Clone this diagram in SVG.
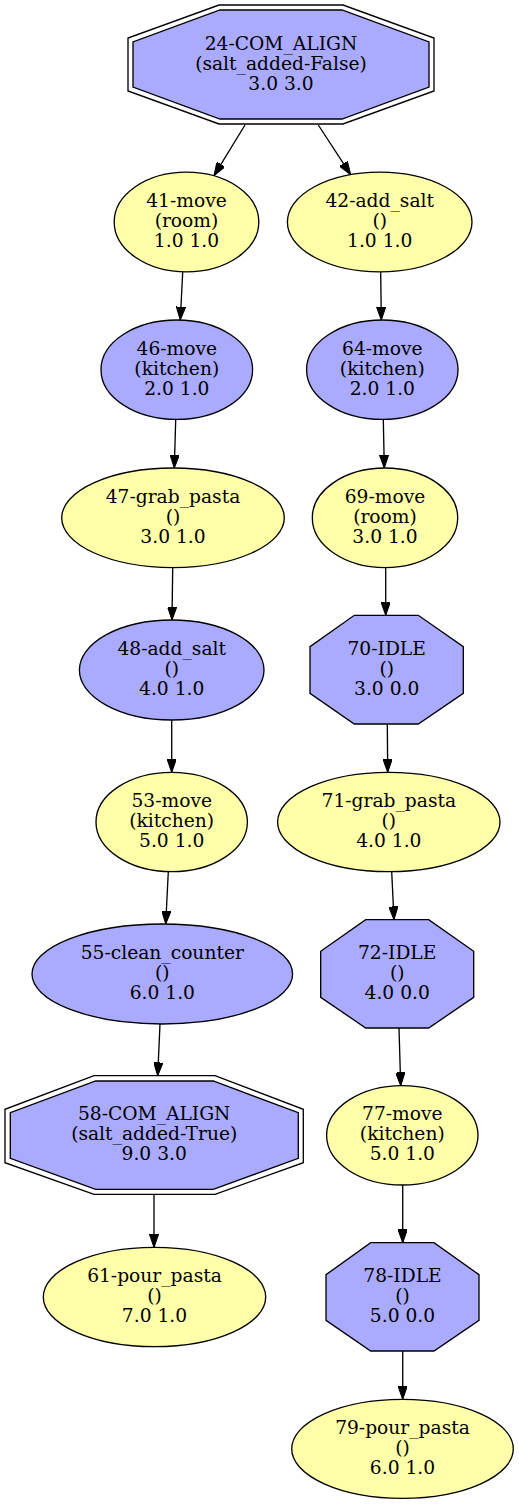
<svg xmlns="http://www.w3.org/2000/svg" width="519" height="1505" viewBox="0 0 519 1505">
<style>
.b{fill:#aaaaff;stroke:#000;stroke-width:1.33}
.y{fill:#ffffaa;stroke:#000;stroke-width:1.33}
.o{fill:none;stroke:#000;stroke-width:1.33}
text{font-family:"DejaVu Serif","Liberation Serif",serif;font-size:18.67px;text-anchor:middle;fill:#000}
.e line{stroke:#000;stroke-width:1.33;marker-end:url(#ah)}
</style>
<defs>
<marker id="ah" viewBox="0 0 10 7" refX="10" refY="3.5" markerWidth="13.3" markerHeight="9.3" markerUnits="userSpaceOnUse" orient="auto">
<path d="M0,0 L10,3.5 L0,7 z" fill="#000" stroke="#000" stroke-width="0.8"/>
</marker>
</defs>
<rect width="519" height="1505" fill="#fff"/>
<g class="e" id="edges">
<line x1="245" y1="125" x2="214" y2="175.7"/>
<line x1="318.3" y1="125" x2="350.7" y2="174.7"/>
<line x1="182.7" y1="272" x2="180.3" y2="320"/>
<line x1="380.7" y1="272" x2="381.3" y2="320"/>
<line x1="175.7" y1="419.5" x2="174.3" y2="468"/>
<line x1="383.3" y1="419.5" x2="384.3" y2="468"/>
<line x1="172.7" y1="567.7" x2="172" y2="620"/>
<line x1="385.7" y1="567.7" x2="385.7" y2="615.3"/>
<line x1="171.7" y1="720" x2="171.7" y2="772.3"/>
<line x1="387.3" y1="724" x2="387.7" y2="772.3"/>
<line x1="168.3" y1="871.7" x2="165.7" y2="924"/>
<line x1="391.7" y1="871.7" x2="394" y2="919.7"/>
<line x1="160" y1="1024" x2="157.7" y2="1075.7"/>
<line x1="399" y1="1028" x2="400.7" y2="1085.7"/>
<line x1="154" y1="1194.3" x2="154" y2="1247.3"/>
<line x1="402.7" y1="1185" x2="402.7" y2="1242.7"/>
<line x1="402.7" y1="1351" x2="402.7" y2="1399.3"/>
</g>
<g id="n24">
<polygon class="o" points="219,5 343,5 434,38 434,91 343,124 219,124 128,91 128,38"/>
<polygon class="b" points="220,10 342,10 429,42 429,87 342,119 220,119 133,87 133,42"/>
<text x="281" y="50">24-COM_ALIGN</text>
<text x="281" y="70">(salt_added-False)</text>
<text x="281" y="89.5">3.0 3.0</text>
</g>
<g id="n41">
<ellipse class="y" cx="186.5" cy="222" rx="72.3" ry="49.8"/>
<text x="186.5" y="207">41-move</text>
<text x="186.5" y="227">(room)</text>
<text x="186.5" y="247">1.0 1.0</text>
</g>
<g id="n42">
<ellipse class="y" cx="379.7" cy="222" rx="92.3" ry="49.8"/>
<text x="379.7" y="207">42-add_salt</text>
<text x="379.7" y="227">()</text>
<text x="379.7" y="247">1.0 1.0</text>
</g>
<g id="n46">
<ellipse class="b" cx="176.8" cy="369.7" rx="75.8" ry="49.7"/>
<text x="176.8" y="354.7">46-move</text>
<text x="176.8" y="374.7">(kitchen)</text>
<text x="176.8" y="394.7">2.0 1.0</text>
</g>
<g id="n64">
<ellipse class="b" cx="382.3" cy="369.7" rx="75.7" ry="49.7"/>
<text x="382.3" y="354.7">64-move</text>
<text x="382.3" y="374.7">(kitchen)</text>
<text x="382.3" y="394.7">2.0 1.0</text>
</g>
<g id="n47">
<ellipse class="y" cx="173" cy="517.8" rx="111.3" ry="49.8"/>
<text x="173" y="502.8">47-grab_pasta</text>
<text x="173" y="522.8">()</text>
<text x="173" y="542.8">3.0 1.0</text>
</g>
<g id="n69">
<ellipse class="y" cx="385" cy="517.8" rx="72.7" ry="49.8"/>
<text x="385" y="502.8">69-move</text>
<text x="385" y="522.8">(room)</text>
<text x="385" y="542.8">3.0 1.0</text>
</g>
<g id="n48">
<ellipse class="b" cx="171.7" cy="670" rx="92.3" ry="50"/>
<text x="171.7" y="655">48-add_salt</text>
<text x="171.7" y="675">()</text>
<text x="171.7" y="695">4.0 1.0</text>
</g>
<g id="n70">
<polygon class="b" points="354.3,615.3 418.3,615.3 463.3,646.7 463.3,693.3 418.3,724 354.3,724 310,693.3 310,646.7"/>
<text x="386.7" y="654.7">70-IDLE</text>
<text x="386.7" y="674.7">()</text>
<text x="386.7" y="694.7">3.0 0.0</text>
</g>
<g id="n53">
<ellipse class="y" cx="171.7" cy="822" rx="75.7" ry="49.7"/>
<text x="171.7" y="807">53-move</text>
<text x="171.7" y="827">(kitchen)</text>
<text x="171.7" y="847">5.0 1.0</text>
</g>
<g id="n71">
<ellipse class="y" cx="388.8" cy="822" rx="111.2" ry="49.7"/>
<text x="388.8" y="807">71-grab_pasta</text>
<text x="388.8" y="827">()</text>
<text x="388.8" y="847">4.0 1.0</text>
</g>
<g id="n55">
<ellipse class="b" cx="162.3" cy="974" rx="130.3" ry="50"/>
<text x="162.3" y="959">55-clean_counter</text>
<text x="162.3" y="979">()</text>
<text x="162.3" y="999">6.0 1.0</text>
</g>
<g id="n72">
<polygon class="b" points="365.7,919.7 428.7,919.7 473.7,951.3 473.7,997.3 428.7,1028 365.7,1028 320.7,997.3 320.7,951.3"/>
<text x="397.2" y="958.8">72-IDLE</text>
<text x="397.2" y="978.8">()</text>
<text x="397.2" y="998.8">4.0 0.0</text>
</g>
<g id="n58">
<polygon class="o" points="94,1075.7 215,1075.7 303.3,1109.3 303.3,1162.7 215,1194.3 94,1194.3 5,1162.7 5,1109.3"/>
<polygon class="b" points="95.7,1081 213.3,1081 298.3,1112.7 298.3,1158.3 213.3,1189.3 95.7,1189.3 10.3,1158.3 10.3,1112.7"/>
<text x="154.2" y="1120">58-COM_ALIGN</text>
<text x="154.2" y="1140">(salt_added-True)</text>
<text x="154.2" y="1160">9.0 3.0</text>
</g>
<g id="n77">
<ellipse class="y" cx="402.3" cy="1135.3" rx="75.7" ry="49.7"/>
<text x="402.3" y="1120.3">77-move</text>
<text x="402.3" y="1140.3">(kitchen)</text>
<text x="402.3" y="1160.3">5.0 1.0</text>
</g>
<g id="n61">
<ellipse class="y" cx="154.5" cy="1297" rx="111.2" ry="49.7"/>
<text x="154.5" y="1282">61-pour_pasta</text>
<text x="154.5" y="1302">()</text>
<text x="154.5" y="1322">7.0 1.0</text>
</g>
<g id="n78">
<polygon class="b" points="370.7,1242.7 434,1242.7 479,1274.7 479,1320.3 434,1351 370.7,1351 326,1320.3 326,1274.7"/>
<text x="402.5" y="1281.8">78-IDLE</text>
<text x="402.5" y="1301.8">()</text>
<text x="402.5" y="1321.8">5.0 0.0</text>
</g>
<g id="n79">
<ellipse class="y" cx="402.5" cy="1448.8" rx="110.8" ry="49.5"/>
<text x="402.5" y="1433.8">79-pour_pasta</text>
<text x="402.5" y="1453.8">()</text>
<text x="402.5" y="1473.8">6.0 1.0</text>
</g>
</svg>
